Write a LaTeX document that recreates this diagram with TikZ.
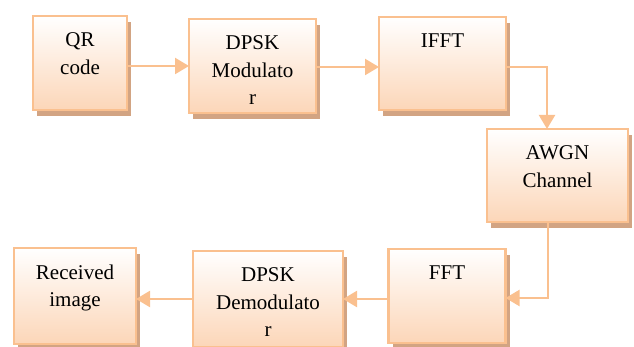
\documentclass[tikz,border=0pt]{standalone}
\usepackage{fontspec}
\newfontfamily\tnr{Liberation Serif}
\usetikzlibrary{arrows.meta,shadows}

\definecolor{edgec}{HTML}{FAC08F}
\definecolor{fillc}{HTML}{FCD6B8}
\definecolor{shadowc}{HTML}{D2A483}

\tikzset{
  block/.style={draw=edgec, line width=2.4pt, top color=white, bottom color=fillc,
    inner sep=0pt, outer sep=0pt,
    drop shadow={shadow xshift=4pt, shadow yshift=-6.5pt, fill=shadowc, opacity=1}},
  lbl/.style={anchor=north, align=center, inner sep=0pt,
    font=\tnr\fontsize{21}{27.5}\selectfont},
  flow/.style={draw=edgec, line width=2.2pt, -{Triangle[length=14pt,width=16pt]}}
}

\begin{document}
\begin{tikzpicture}[x=1pt,y=-1pt]
  \useasboundingbox (0,0) rectangle (634,347);

  % processing blocks
  \node[block, minimum width=94pt, minimum height=94pt]  (qr)   at (80,63)     {};
  \node[block, minimum width=127pt, minimum height=94pt] (mod)  at (252.5,66)  {};
  \node[block, minimum width=127pt, minimum height=93pt] (ifft) at (442.5,63.5){};
  \node[block, minimum width=141pt, minimum height=93pt] (awgn) at (557.5,175.5){};
  \node[block, minimum width=117pt, minimum height=94pt] (fft)  at (447,296)   {};
  \node[block, minimum width=150pt, minimum height=96pt] (dem)  at (268,299)   {};
  \node[block, minimum width=122pt, minimum height=96pt] (rx)   at (75,296)    {};

  % block captions, hanging from the top edge
  \node[lbl] (qr-t)   at ([yshift=-16.5pt]qr.north)   {QR\\code};
  \node[lbl] (mod-t)  at ([yshift=-16.5pt]mod.north)  {DPSK\\Modulato\\r};
  \node[lbl] (ifft-t) at ([yshift=-16.5pt]ifft.north) {IFFT};
  \node[lbl] (awgn-t) at ([yshift=-16.5pt]awgn.north) {AWGN\\Channel};
  \node[lbl] (fft-t)  at ([yshift=-16.5pt]fft.north)  {FFT};
  \node[lbl] (dem-t)  at ([yshift=-16.5pt]dem.north)  {DPSK\\Demodulato\\r};
  \node[lbl] (rx-t)   at ([yshift=-16.5pt]rx.north)   {Received\\image};

  % signal flow
  \draw[flow] ([yshift=-3pt]qr.east) -- ([yshift=-3pt]qr.east -| mod.west);
  \draw[flow] ([yshift=-1pt]mod.east) -- ([yshift=-1pt]mod.east -| ifft.west);
  \draw[flow] ([yshift=-3.5pt]ifft.east) -| ([xshift=-10.5pt]awgn.north);
  \draw[flow] ([xshift=-9.5pt]awgn.south) |- ([yshift=-2pt]fft.east);
  \draw[flow] ([yshift=-3pt]fft.west) -- ([yshift=-3pt]fft.west -| dem.east);
  \draw[flow] (dem.west) -- (dem.west -| rx.east);
\end{tikzpicture}
\end{document}
